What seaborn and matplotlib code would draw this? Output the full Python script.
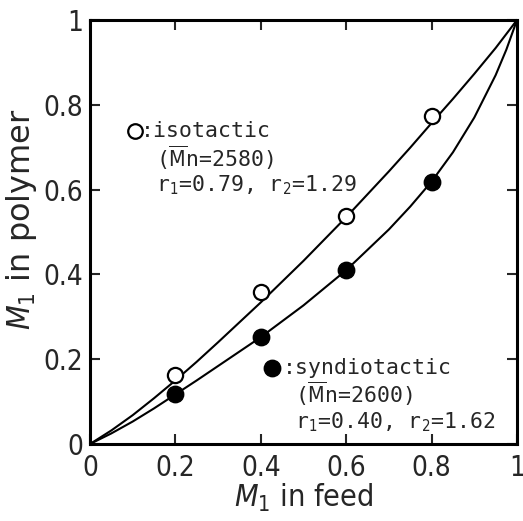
import numpy as np
import pandas as pd
import matplotlib
matplotlib.use("Agg")
import matplotlib.pyplot as plt
import seaborn as sns

# -------------------------------
# DATA
# -------------------------------

feed_pts = [0.2, 0.4, 0.6, 0.8]
iso_pts = [0.163, 0.358, 0.537, 0.773]
syn_pts = [0.117, 0.252, 0.41, 0.618]

# fitted curves
curve_feed = [0.0, 0.05, 0.1, 0.15, 0.2, 0.25, 0.3, 0.4, 0.5, 0.6, 0.7, 0.75,
              0.8, 0.85, 0.9, 0.95, 0.975, 1.0]
iso_curve = [0.0, 0.032, 0.068, 0.108, 0.150, 0.194, 0.240, 0.334, 0.432, 0.535,
             0.643, 0.699, 0.757, 0.814, 0.873, 0.934, 0.967, 1.0]
syn_curve = [0.0, 0.025, 0.053, 0.084, 0.117, 0.150, 0.184, 0.252, 0.327, 0.410,
             0.506, 0.560, 0.619, 0.688, 0.770, 0.870, 0.930, 1.0]

ticks = [0, 0.2, 0.4, 0.6, 0.8, 1]
tick_labels = ["0", "0.2", "0.4", "0.6", "0.8", "1"]

# -------------------------------
# PLOT
# -------------------------------

sns.set_style("ticks")
plt.rcParams['font.family'] = ['DejaVu Sans']
plt.rcParams['font.stretch'] = 'condensed'
plt.rcParams['mathtext.fontset'] = 'dejavusans'

fig = plt.figure(figsize=(5.23, 5.21), dpi=100)
ax = fig.add_axes([90 / 523, 77 / 521, 427 / 523, 424 / 521])

curves = pd.DataFrame({"feed": curve_feed, "iso": iso_curve, "syn": syn_curve})
sns.lineplot(data=curves, x="feed", y="iso", color="black", lw=1.5, ax=ax)
sns.lineplot(data=curves, x="feed", y="syn", color="black", lw=1.5, ax=ax)

pts = pd.DataFrame({"feed": feed_pts, "iso": iso_pts, "syn": syn_pts})
sns.scatterplot(data=pts, x="feed", y="iso", s=120, color="white",
                edgecolor="black", linewidth=1.6, zorder=5, ax=ax)
sns.scatterplot(data=pts, x="feed", y="syn", s=140, color="black",
                edgecolor="black", linewidth=1.0, zorder=5, ax=ax)

# annotations
mono = ['DejaVu Sans Mono']
fs = 15.5
ax.scatter([0.105], [0.738], s=110, facecolor="white", edgecolor="black", linewidth=1.6)
ax.text(0.118, 0.738, ":isotactic", family=mono, fontsize=fs, va="center")
ax.text(0.155, 0.676, "($\\overline{\\rm M}$n=2580)", family=mono, fontsize=fs, va="center")
ax.text(0.155, 0.61, "r$_1$=0.79, r$_2$=1.29", family=mono, fontsize=fs, va="center")

ax.scatter([0.426], [0.18], s=140, color="black")
ax.text(0.452, 0.18, ":syndiotactic", family=mono, fontsize=fs, va="center")
ax.text(0.48, 0.118, "($\\overline{\\rm M}$n=2600)", family=mono, fontsize=fs, va="center")
ax.text(0.48, 0.052, "r$_1$=0.40, r$_2$=1.62", family=mono, fontsize=fs, va="center")

ax.set_xlim(0, 1)
ax.set_ylim(0, 1)
ax.set_xticks(ticks)
ax.set_xticklabels(tick_labels, fontsize=20)
ax.set_yticks(ticks)
ax.set_yticklabels(tick_labels, fontsize=20)
ax.tick_params(direction="in", length=7, width=1.5, right=True, top=True)
ax.tick_params(axis="x", pad=7)
ax.tick_params(axis="y", pad=5)

for side in ax.spines.values():
    side.set_linewidth(2.2)
    side.set_color("black")

ax.set_xlabel("$M_1$ in feed", fontsize=22, labelpad=0)
ax.set_ylabel("$M_1$ in polymer", fontsize=23, fontstretch="normal")
ax.yaxis.set_label_coords(-0.12, 0.53)

fig.savefig("out.png", dpi=100)
plt.close()
